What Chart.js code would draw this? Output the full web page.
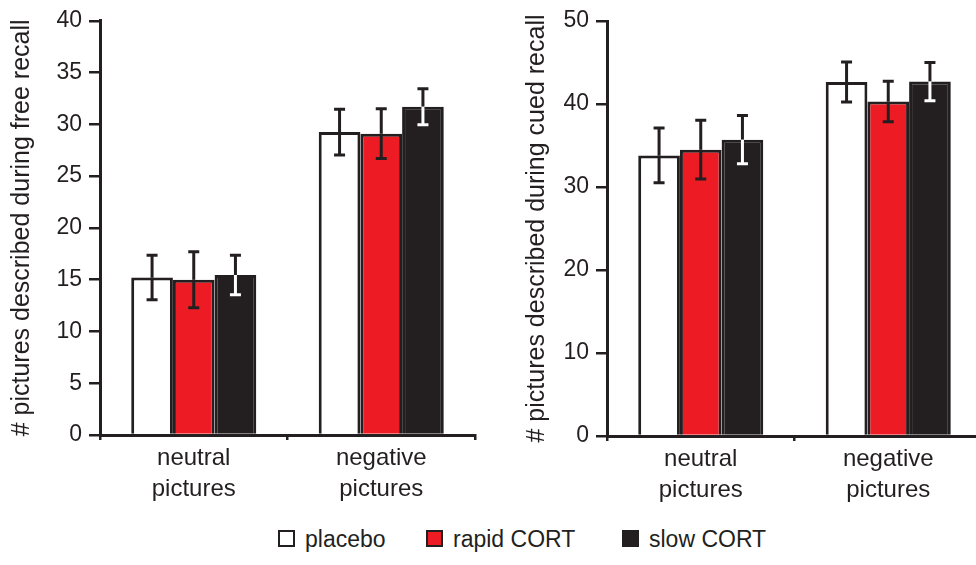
<!DOCTYPE html>
<html>
<head>
<meta charset="utf-8">
<script src="https://cdn.jsdelivr.net/npm/chart.js@4/dist/chart.umd.min.js"></script>
<style>
  html, body { margin: 0; padding: 0; width: 976px; height: 565px; overflow: hidden; background: #fff; }
  #free { position: absolute; left: 0; top: 0; }
  #cued { position: absolute; left: 480px; top: 0; }
  .key { position: absolute; top: 528px; font: 23px "Liberation Sans", Arial, sans-serif; color: #231f20; line-height: 23px; white-space: nowrap; }
  .key .box { position: absolute; left: 0; top: 2px; width: 17px; height: 17px; box-sizing: border-box; border: 2px solid #231f20; }
  .key .txt { position: absolute; left: 27px; top: 0; }
</style>
</head>
<body>
<canvas id="free" width="480" height="520"></canvas>
<canvas id="cued" width="505" height="520"></canvas>
<div id="legend"></div>
<script>
// categories and series
const categories = [['neutral', 'pictures'], ['negative', 'pictures']];
const seriesNames = ['placebo', 'rapid CORT', 'slow CORT'];

// free recall (left panel)
const freePlacebo = [15.2, 29.25];
const freeRapid = [15.0, 29.1];
const freeSlow = [15.45, 31.7];
const freePlaceboErr = [2.15, 2.2];
const freeRapidErr = [2.7, 2.4];
const freeSlowErr = [1.9, 1.75];
const freeTicks = [0, 5, 10, 15, 20, 25, 30, 35, 40];

// cued recall (right panel)
const cuedPlacebo = [33.8, 42.65];
const cuedRapid = [34.5, 40.3];
const cuedSlow = [35.7, 42.7];
const cuedPlaceboErr = [3.3, 2.4];
const cuedRapidErr = [3.55, 2.45];
const cuedSlowErr = [2.9, 2.3];
const cuedTicks = [0, 10, 20, 30, 40, 50];

const DARK = '#231f20';
const RED = '#ed1c24';
const fills = ['#ffffff', RED, DARK];
const FONT = '"Liberation Sans", Arial, sans-serif';

// error bars drawn from the y scale; inside black bars the lower half is white
const errorBars = {
    id: 'errorBars',
    afterDatasetsDraw(chart) {
        const ctx = chart.ctx;
        const yScale = chart.scales.y;
        chart.data.datasets.forEach((ds, i) => {
            const meta = chart.getDatasetMeta(i);
            meta.data.forEach((bar, j) => {
                const v = ds.data[j], e = ds.errors[j];
                const x = bar.x;
                const yTop = yScale.getPixelForValue(v + e);
                const yMid = yScale.getPixelForValue(v);
                const yBot = yScale.getPixelForValue(v - e);
                ctx.save();
                ctx.lineWidth = 3;
                ctx.strokeStyle = DARK;
                ctx.beginPath();
                ctx.moveTo(x, yTop); ctx.lineTo(x, yMid);
                ctx.moveTo(x - 5.5, yTop); ctx.lineTo(x + 5.5, yTop);
                ctx.stroke();
                ctx.strokeStyle = ds.errInside;
                ctx.beginPath();
                ctx.moveTo(x, yMid); ctx.lineTo(x, yBot);
                ctx.moveTo(x - 5.5, yBot); ctx.lineTo(x + 5.5, yBot);
                ctx.stroke();
                ctx.restore();
            });
        });
    }
};

function makePanel(id, values, errors, title, ticks, yWidth, titlePad, xHeight, padTop, padRight) {
    return new Chart(document.getElementById(id), {
        type: 'bar',
        data: {
            labels: categories,
            datasets: values.map((vals, i) => ({
                label: seriesNames[i],
                data: vals,
                errors: errors[i],
                errInside: i === 2 ? '#ffffff' : DARK,
                backgroundColor: fills[i],
                borderColor: DARK,
                borderWidth: 3,
                borderSkipped: 'bottom',
                categoryPercentage: 0.667,
                barPercentage: 1.0
            }))
        },
        options: {
            responsive: false,
            animation: false,
            devicePixelRatio: 1,
            layout: { padding: { top: padTop, right: padRight, left: 0, bottom: 0 } },
            plugins: { legend: { display: false }, tooltip: { enabled: false } },
            scales: {
                x: {
                    afterFit: (s) => { s.height = xHeight; },
                    grid: { drawOnChartArea: false, drawTicks: true, tickLength: 5, color: DARK, lineWidth: 2.5, offset: true },
                    border: { display: true, color: DARK, width: 3 },
                    ticks: { color: DARK, padding: 3, font: { family: FONT, size: 24, lineHeight: 1.3 } }
                },
                y: {
                    min: ticks[0],
                    max: ticks[ticks.length - 1],
                    afterBuildTicks: (s) => { s.ticks = ticks.map(v => ({ value: v })); },
                    afterFit: (s) => { s.width = yWidth; },
                    grid: { drawOnChartArea: false, drawTicks: true, tickLength: 11, color: DARK, lineWidth: 2.5 },
                    border: { display: true, color: DARK, width: 3 },
                    ticks: { color: DARK, padding: 7, font: { family: FONT, size: 23 } },
                    title: {
                        display: true,
                        text: title,
                        color: DARK,
                        padding: { top: titlePad, bottom: 0 },
                        font: { family: FONT, size: 25 }
                    }
                }
            }
        },
        plugins: [errorBars]
    });
}

makePanel('free',
    [freePlacebo, freeRapid, freeSlow],
    [freePlaceboErr, freeRapidErr, freeSlowErr],
    '# pictures described during free recall', freeTicks,
    100, 7, 85, 20, 5);

makePanel('cued',
    [cuedPlacebo, cuedRapid, cuedSlow],
    [cuedPlaceboErr, cuedRapidErr, cuedSlowErr],
    '# pictures described during cued recall', cuedTicks,
    127, 42, 84, 21, 3);

// shared legend below both panels
const legendX = [278, 426, 622];
const legend = document.getElementById('legend');
seriesNames.forEach((name, i) => {
    const item = document.createElement('div');
    item.className = 'key';
    item.style.left = legendX[i] + 'px';
    const box = document.createElement('span');
    box.className = 'box';
    box.style.background = fills[i];
    const txt = document.createElement('span');
    txt.className = 'txt';
    txt.textContent = name;
    item.appendChild(box);
    item.appendChild(txt);
    legend.appendChild(item);
});
</script>
</body>
</html>
